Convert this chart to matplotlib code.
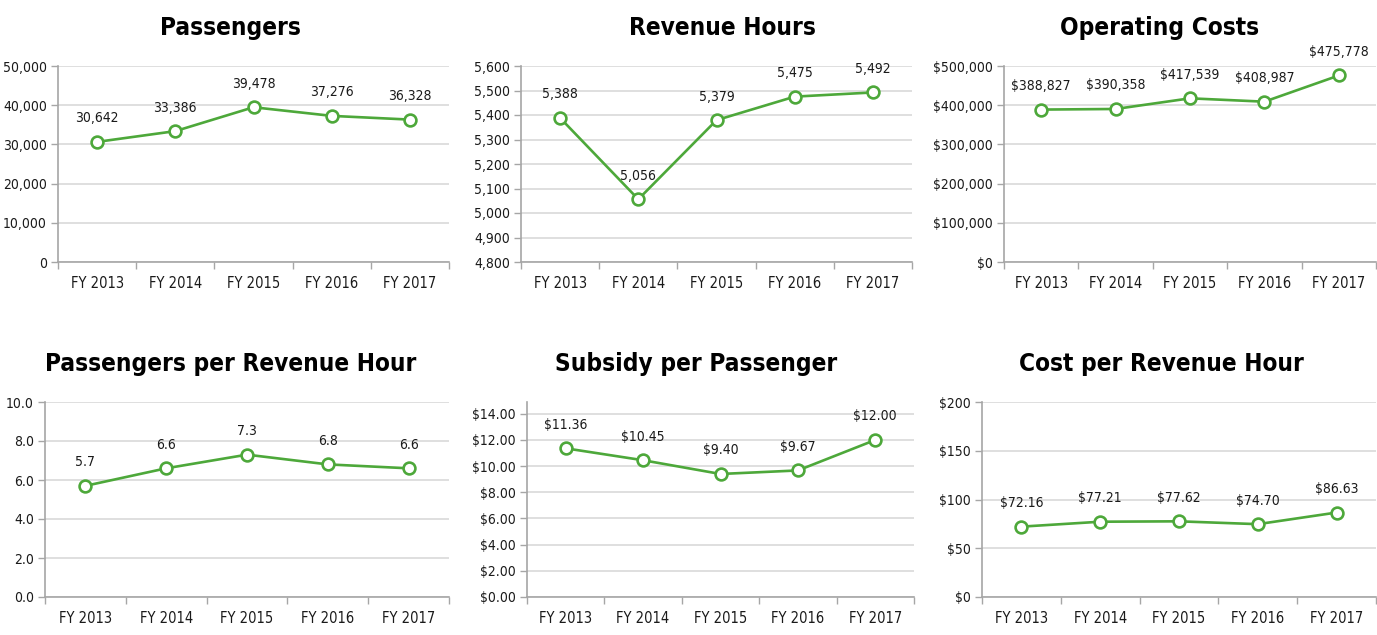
import matplotlib
matplotlib.use("Agg")
import matplotlib.pyplot as plt
import matplotlib.font_manager as fm
from matplotlib.ticker import FuncFormatter, FixedLocator

years = ["FY 2013", "FY 2014", "FY 2015", "FY 2016", "FY 2017"]

passengers = [30642, 33386, 39478, 37276, 36328]
revenue_hours = [5388, 5056, 5379, 5475, 5492]
operating_costs = [388827, 390358, 417539, 408987, 475778]
pass_per_hour = [5.7, 6.6, 7.3, 6.8, 6.6]
subsidy_per_pass = [11.36, 10.45, 9.40, 9.67, 12.00]
cost_per_hour = [72.16, 77.21, 77.62, 74.70, 86.63]

# narrow font if there is one, otherwise condensed DejaVu
installed = {f.name for f in fm.fontManager.ttflist}
font = "Liberation Sans Narrow" if "Liberation Sans Narrow" in installed else "DejaVu Sans"
plt.rcParams["font.family"] = font
plt.rcParams["font.stretch"] = "condensed"

GREEN = "#4DA83A"
GRID = "#D9D9D9"
AXIS = "#A6A6A6"
TXT = "#1a1a1a"

W, H = 1377, 635
fig = plt.figure(figsize=(W / 100, H / 100), dpi=100)


def box(l, t, r, b):
    return [l / W, 1 - b / H, (r - l) / W, (b - t) / H]


panels = [
    ("Passengers", passengers, box(58, 66, 449, 262), (0, 50000), range(0, 50001, 10000),
     lambda v: f"{v:,.0f}", lambda v: f"{v:,}", (230, 35)),
    ("Revenue Hours", revenue_hours, box(521, 66, 912, 262), (4800, 5600), range(4800, 5601, 100),
     lambda v: f"{v:,.0f}", lambda v: f"{v:,}", (722, 35)),
    ("Operating Costs", operating_costs, box(1004, 66, 1376, 262), (0, 500000), range(0, 500001, 100000),
     lambda v: f"${v:,.0f}", lambda v: f"${v:,}", (1160, 35)),
    ("Passengers per Revenue Hour", pass_per_hour, box(45, 402, 449, 597), (0, 10), [0, 2, 4, 6, 8, 10],
     lambda v: f"{v:.1f}", lambda v: f"{v:.1f}", (231, 371)),
    ("Subsidy per Passenger", subsidy_per_pass, box(527, 402, 914, 597), (0, 14.9), range(0, 15, 2),
     lambda v: f"${v:.2f}", lambda v: f"${v:.2f}", (696, 371)),
    ("Cost per Revenue Hour", cost_per_hour, box(982, 402, 1376, 597), (0, 200), range(0, 201, 50),
     lambda v: f"${v:.0f}", lambda v: f"${v:.2f}", (1161, 371)),
]

x = list(range(len(years)))

for title, vals, pos, ylim, yticks, yfmt, lfmt, tpos in panels:
    ax = fig.add_axes(pos)
    ax.plot(x, vals, color=GREEN, lw=1.9, marker="o", ms=8.5, mfc="white",
            mec=GREEN, mew=1.9, zorder=3, clip_on=False)
    for xi, v in zip(x, vals):
        ax.annotate(lfmt(v), (xi, v), xytext=(0, 17), textcoords="offset points",
                    ha="center", va="center", fontsize=10, color=TXT)

    ax.set_xlim(-0.5, len(years) - 0.5)
    ax.set_ylim(*ylim)
    ax.yaxis.set_major_locator(FixedLocator(list(yticks)))
    ax.yaxis.set_major_formatter(FuncFormatter(lambda v, p, f=yfmt: f(v)))
    ax.grid(axis="y", color=GRID, lw=1.2)
    ax.set_axisbelow(True)

    ax.set_xticks(x)
    ax.set_xticklabels(years)
    ax.set_xticks([i - 0.5 for i in range(len(years) + 1)], minor=True)
    ax.tick_params(axis="x", which="major", length=0, pad=10, labelsize=10.5, labelcolor=TXT)
    ax.tick_params(axis="x", which="minor", length=5, color=AXIS, width=1)
    ax.tick_params(axis="y", length=5, color=AXIS, width=1, pad=3, labelsize=10, labelcolor=TXT)

    for s in ["top", "right"]:
        ax.spines[s].set_visible(False)
    for s in ["left", "bottom"]:
        ax.spines[s].set_color(AXIS)
        ax.spines[s].set_linewidth(1.2)

    fig.text(tpos[0] / W, 1 - tpos[1] / H, title, ha="center", va="baseline",
             fontsize=17.5, fontweight="bold", color="black")

fig.savefig("out.png", dpi=100)
